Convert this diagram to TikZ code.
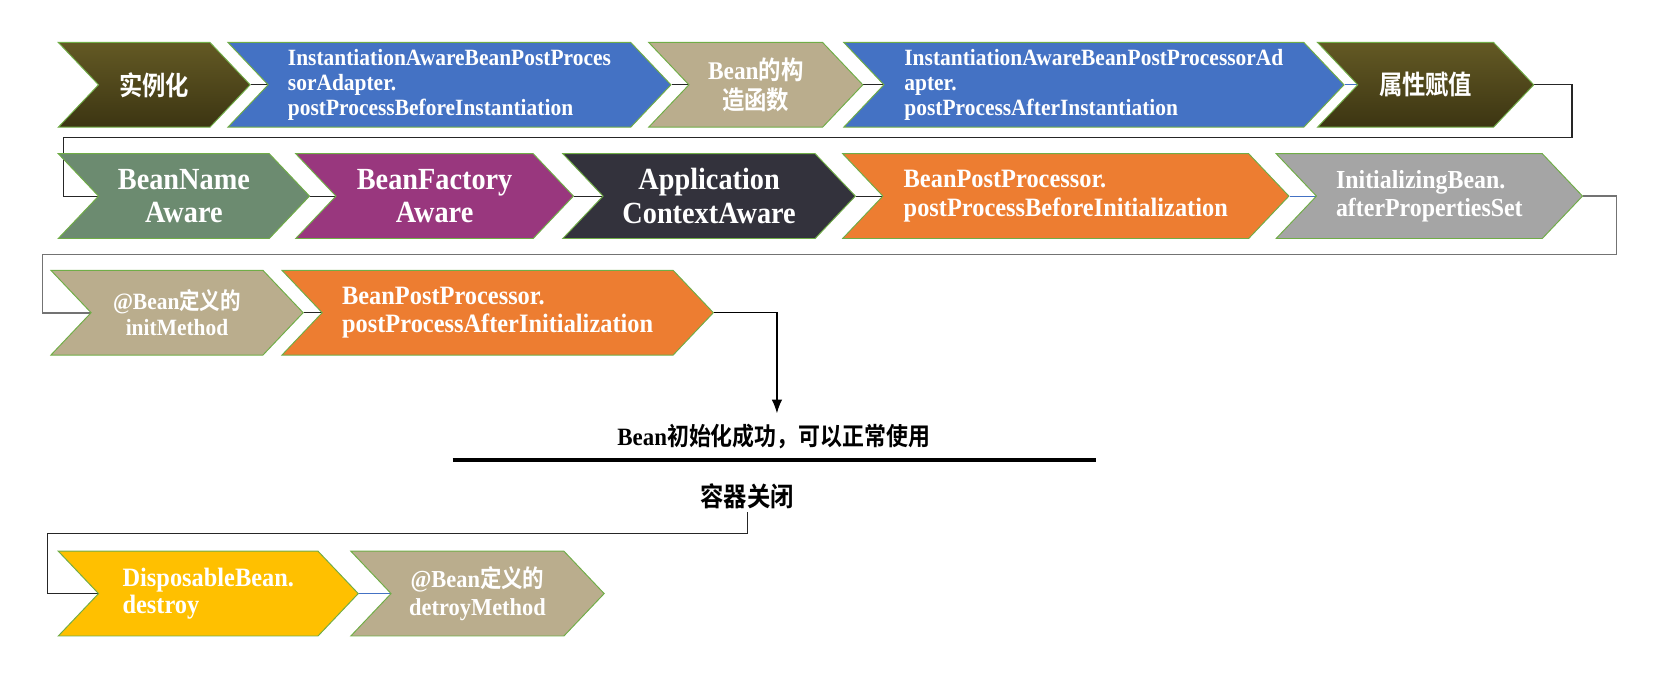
\documentclass[tikz,border=0pt]{standalone}
\usepackage{fontspec}
\setmainfont{Liberation Serif}[FakeStretch=0.92]
\newfontfamily\cjk{Noto Sans CJK SC}[FakeStretch=0.88,BoldFont={Noto Sans CJK SC Bold}]
\usepackage{xcolor}
\usepackage{tikz}
\usetikzlibrary{arrows.meta,positioning,shapes.symbols,backgrounds}

\definecolor{olvtop}{RGB}{99,89,36}
\definecolor{olvbot}{RGB}{60,53,18}
\definecolor{bluef}{RGB}{68,114,196}
\definecolor{tanf}{RGB}{186,173,141}
\definecolor{sagef}{RGB}{108,139,112}
\definecolor{plumf}{RGB}{153,55,126}
\definecolor{inkf}{RGB}{51,50,60}
\definecolor{orangef}{RGB}{237,125,49}
\definecolor{greyf}{RGB}{165,165,165}
\definecolor{goldf}{RGB}{255,192,0}
\definecolor{rim}{RGB}{112,173,71}
\definecolor{linkblue}{RGB}{68,114,196}
\newcommand{\setfs}[2]{\fontsize{#1}{#2}\selectfont}

\begin{document}
\begin{tikzpicture}[x=1pt,y=-1pt,>=Latex,
  chev/.style={signal,signal to=east,signal from=west,signal pointer angle=93,
    draw=rim,line width=0.9pt,minimum height=80pt,inner sep=0pt,
    text=white,align=center},
  sz/.style n args={2}{font=\bfseries\setfs{#1}{#2}},
  olive/.style={top color=olvtop,bottom color=olvbot},
  link/.style={line width=1.1pt,black!85},
  bluelink/.style={line width=1.1pt,linkblue},
  ar/.style={-{Latex[length=13pt,width=10pt]},line width=1.4pt}]
\useasboundingbox (0,0) rectangle (1568,638);
% --- row 1: instantiation ---
\node[chev,olive,minimum width=181pt,sz={25}{28}] (inst) at (145.5,80) {\cjk 实例化};
\node[chev,fill=bluef,minimum width=418pt,sz={22}{23.5},align=left] (preinst) at (424,80)
  {InstantiationAwareBeanPostProces\\sorAdapter.\\postProcessBeforeInstantiation};
\node[chev,fill=tanf,minimum width=202pt,sz={24}{28}] (ctor) at (713,80) {Bean{\cjk 的构}\\{\cjk 造函数}};
\node[chev,fill=bluef,minimum width=472pt,sz={22}{23.5},align=left] (postinst) at (1032,80)
  {InstantiationAwareBeanPostProcessorAd\\apter.\\postProcessAfterInstantiation};
\node[chev,olive,minimum width=204pt,sz={25}{28}] (props) at (1345,80) {\cjk 属性赋值};
% --- row 2: aware callbacks, before init ---
\node[chev,fill=sagef,minimum width=237pt,sz={29}{32}] (nameaware) at (173.5,185) {BeanName\\Aware};
\node[chev,fill=plumf,minimum width=262pt,sz={29}{32}] (factaware) at (410,185) {BeanFactory\\Aware};
\node[chev,fill=inkf,minimum width=276pt,sz={29}{32}] (ctxaware) at (669,185) {Application\\ContextAware};
\node[chev,fill=orangef,minimum width=421pt,sz={25}{28},align=left] (preinit) at (1005.5,185)
  {BeanPostProcessor.\\postProcessBeforeInitialization};
\node[chev,fill=greyf,minimum width=289pt,sz={24.5}{27},align=left] (afterset) at (1348.5,185)
  {InitializingBean.\\afterPropertiesSet};
% --- row 3: init method, after init ---
\node[chev,fill=tanf,minimum width=238pt,sz={22}{25}] (initm) at (167,295) {@Bean{\cjk 定义的}\\initMethod};
\node[chev,fill=orangef,minimum width=407pt,sz={25}{27},align=left] (postinit) at (469.5,295)
  {BeanPostProcessor.\\postProcessAfterInitialization};
% --- ready / shutdown ---
\node[sz={23.5}{26}] (ready) at (730,412) {Bean{\cjk 初始化成功，可以正常使用}};
\coordinate (sepL) at (427,434);
\coordinate (sepR) at (1034,434);
\draw[line width=4.5pt] (sepL) -- (sepR);
\node[sz={25}{28}] (closed) at (705,468) {\cjk 容器关闭};
% --- row 4: destruction ---
\node[chev,fill=goldf,minimum width=283pt,sz={25}{26},align=left] (dispose) at (196.5,560)
  {DisposableBean.\\destroy};
\node[chev,fill=tanf,minimum width=239pt,sz={23}{26}] (destroym) at (450.5,560) {@Bean{\cjk 定义的}\\detroyMethod};
% --- connectors, hidden behind the chevrons ---
\coordinate (turnA) at (1483,130); \coordinate (turnAb) at (60,130);
\coordinate (turnB) at (1525,240); \coordinate (turnBb) at (40,240);
\coordinate (drop) at (733,390);
\coordinate (turnC) at (45,503);
\begin{scope}[on background layer]
\draw[link] (inst.east) -- (preinst.center);
\draw[link] (preinst.east) -- (ctor.center);
\draw[link] (ctor.east) -- (postinst.center);
\draw[bluelink] (postinst.east) -- (props.center);
\draw[link] (props.east) -| (turnA) -- (turnAb) |- (nameaware.center);
\draw[link] (nameaware.east) -- (factaware.center);
\draw[link] (factaware.east) -- (ctxaware.center);
\draw[link] (ctxaware.east) -- (preinit.center);
\draw[bluelink] (preinit.east) -- (afterset.center);
\draw[link,black!55,line width=1.6pt] (afterset.east) -| (turnB) -- (turnBb) |- (initm.center);
\draw[link] (initm.east) -- (postinit.center);
\draw[ar] (postinit.east) -| (drop);
\draw[link] (closed.south) |- (turnC) |- (dispose.center);
\draw[bluelink] (dispose.east) -- (destroym.center);
\end{scope}
\end{tikzpicture}
\end{document}
